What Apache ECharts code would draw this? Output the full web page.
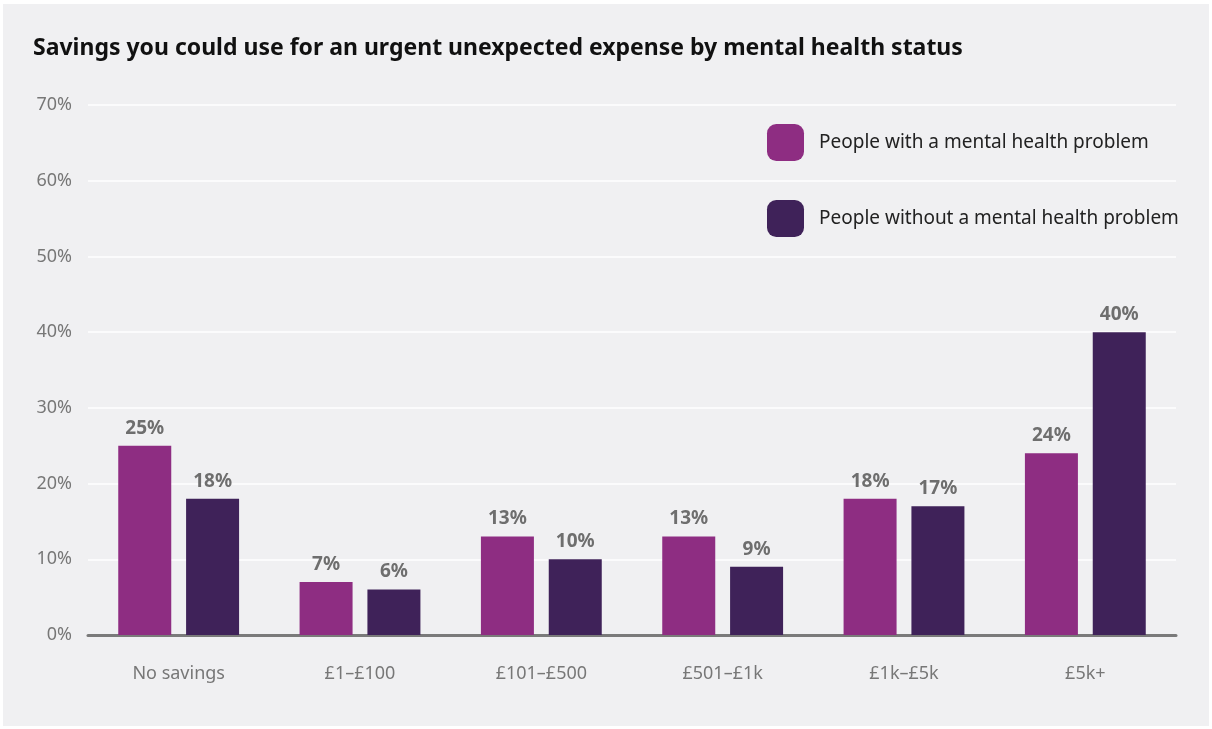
<!DOCTYPE html>
<html>
<head>
<meta charset="utf-8">
<script src="https://cdn.jsdelivr.net/npm/echarts@6/dist/echarts.min.js"></script>
<style>
  html, body { margin: 0; padding: 0; background: #ffffff; }
  #chart { position: absolute; left: 3px; top: 4px; width: 1206px; height: 722px; }
</style>
</head>
<body>
<div id="chart"></div>
<script>
const categories = ['No savings', '£1–£100', '£101–£500', '£501–£1k', '£1k–£5k', '£5k+'];
const withProblem = [25, 7, 13, 13, 18, 24];
const withoutProblem = [18, 6, 10, 9, 17, 40];
const seriesNames = ['People with a mental health problem', 'People without a mental health problem'];
const titleText = 'Savings you could use for an urgent unexpected expense by mental health status';

const FONT = '"Source Sans Pro", "Noto Sans", sans-serif';

const chart = echarts.init(document.getElementById('chart'));

const labelStyle = {
  show: true,
  position: 'top',
  distance: 8,
  formatter: p => p.value + '%',
  color: '#6e6e6e',
  fontWeight: 'bold',
  fontSize: 19,
  fontFamily: FONT
};

chart.setOption({
  backgroundColor: '#f0f0f2',
  animation: false,
  title: {
    text: titleText,
    left: 30,
    top: 33,
    padding: 0,
    textStyle: { fontFamily: FONT, fontWeight: 'bold', fontSize: 23, color: '#111111' }
  },
  legend: {
    orient: 'vertical',
    left: 764,
    top: 120,
    padding: 0,
    itemWidth: 37,
    itemHeight: 37,
    itemGap: 39,
    icon: 'roundRect',
    textStyle: { fontFamily: FONT, fontSize: 19, color: '#222222', padding: [0, 0, 0, 10] },
    data: seriesNames
  },
  grid: { left: 85, top: 101, width: 1088, height: 530, containLabel: false },
  xAxis: {
    type: 'category',
    data: categories,
    axisLine: { show: true, lineStyle: { color: '#7a7a7a', width: 3 } },
    axisTick: { show: false },
    axisLabel: { color: '#777777', fontSize: 18, fontFamily: FONT, margin: 30 }
  },
  yAxis: {
    type: 'value',
    min: 0,
    max: 70,
    interval: 10,
    axisLine: { show: false },
    axisTick: { show: false },
    splitLine: { lineStyle: { color: '#ffffff', width: 1.5 } },
    axisLabel: { color: '#777777', fontSize: 18, fontFamily: FONT, margin: 16, formatter: '{value}%' }
  },
  series: [
    {
      name: seriesNames[0],
      type: 'bar',
      data: withProblem,
      barWidth: 53,
      barGap: '28%',
      itemStyle: { color: '#8e2d82' },
      label: labelStyle
    },
    {
      name: seriesNames[1],
      type: 'bar',
      data: withoutProblem,
      barWidth: 53,
      barGap: '28%',
      itemStyle: { color: '#3f2259' },
      label: labelStyle
    }
  ]
});
</script>
</body>
</html>
